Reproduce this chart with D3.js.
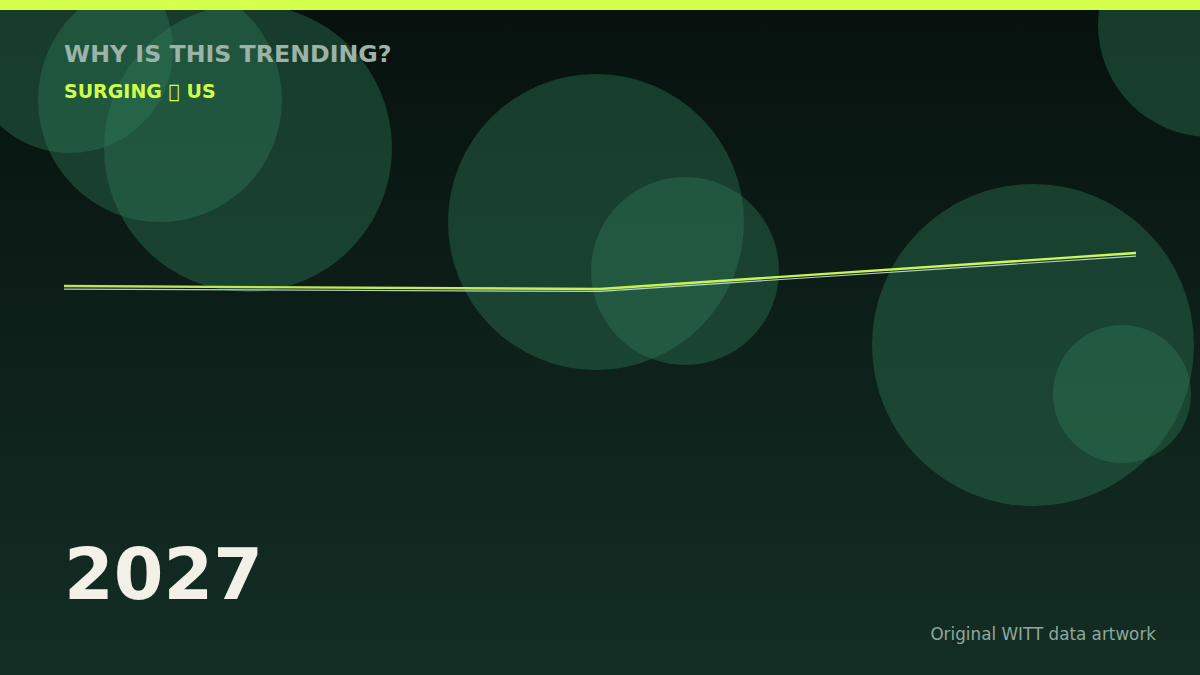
<!DOCTYPE html>
<html>
<head>
<meta charset="utf-8">
<script src="https://cdn.jsdelivr.net/npm/d3@7/dist/d3.min.js"></script>
<style>
  html, body { margin: 0; padding: 0; background: #0a1713; }
  svg { display: block; }
</style>
</head>
<body>
<svg id="chart" width="1200" height="675"></svg>
<script>
// ---- data ----
const periods = ["2025", "2026", "2027"];
const trendValues = [60.0, 59.1, 69.7];
const echoValues = [59.1, 58.4, 68.8];
const bubbleX = [70, 160, 248, 596, 685, 1033, 1122, 1210];
const bubbleY = [50, 100, 148, 222, 271, 345, 394, 25];
const bubbleR = [103, 122, 144, 148, 94, 161, 69, 112];
const titleText = "WHY IS THIS TRENDING?";
const subtitleText = "SURGING \uE000 US";
const yearText = "2027";
const creditText = "Original WITT data artwork";

// ---- setup ----
const W = 1200, H = 675;
const svg = d3.select("#chart");
const defs = svg.append("defs");

const bg = defs.append("linearGradient").attr("id", "bg")
  .attr("x1", 0).attr("y1", 0).attr("x2", 0).attr("y2", 1);
bg.append("stop").attr("offset", "0%").attr("stop-color", "#07110e");
bg.append("stop").attr("offset", "100%").attr("stop-color", "#132e25");

svg.append("rect").attr("width", W).attr("height", H).attr("fill", "url(#bg)");

// bubbles
const bubbles = bubbleX.map((x, i) => ({ x, y: bubbleY[i], r: bubbleR[i] }));
svg.append("g").selectAll("circle").data(bubbles).join("circle")
  .attr("cx", d => d.x).attr("cy", d => d.y).attr("r", d => d.r)
  .attr("fill", "#2f7a58").attr("fill-opacity", 0.4);

// top bar
svg.append("rect").attr("x", 0).attr("y", 0).attr("width", W).attr("height", 10)
  .attr("fill", "#d4ff4a");

// scales
const x = d3.scalePoint().domain(periods).range([64, 1136]);
const y = d3.scaleLinear().domain([0, 100]).range([490, 150]);

const line = d3.line().x((d, i) => x(periods[i])).y(d => y(d));

const lg = defs.append("linearGradient").attr("id", "lineGrad")
  .attr("gradientUnits", "userSpaceOnUse")
  .attr("x1", 64).attr("y1", 0).attr("x2", 1136).attr("y2", 0);
lg.append("stop").attr("offset", "0%").attr("stop-color", "#b9e35a");
lg.append("stop").attr("offset", "50%").attr("stop-color", "#c8f24e");
lg.append("stop").attr("offset", "100%").attr("stop-color", "#d0f85a");

svg.append("path").datum(echoValues)
  .attr("d", line).attr("fill", "none")
  .attr("stroke", "#cdeedd").attr("stroke-opacity", 0.85)
  .attr("stroke-width", 1.2);

svg.append("path").datum(trendValues)
  .attr("d", line).attr("fill", "none")
  .attr("stroke", "url(#lineGrad)").attr("stroke-width", 2.4);

// text
const font = "'DejaVu Sans', sans-serif";
svg.append("text").attr("x", 64).attr("y", 62)
  .attr("font-family", font).attr("font-weight", "bold").attr("font-size", 23.7)
  .attr("fill", "#9bb3a8").text(titleText);

svg.append("text").attr("x", 64).attr("y", 98)
  .attr("font-family", font).attr("font-weight", "bold").attr("font-size", 19)
  .attr("fill", "#cfff4a").text(subtitleText);

svg.append("text").attr("x", 64).attr("y", 599)
  .attr("font-family", font).attr("font-weight", "bold").attr("font-size", 71.5)
  .attr("fill", "#f3f0e7").text(yearText);

svg.append("text").attr("x", 1156).attr("y", 640)
  .attr("text-anchor", "end")
  .attr("font-family", font).attr("font-size", 16.8)
  .attr("fill", "#8ea89c").text(creditText);
</script>
</body>
</html>
